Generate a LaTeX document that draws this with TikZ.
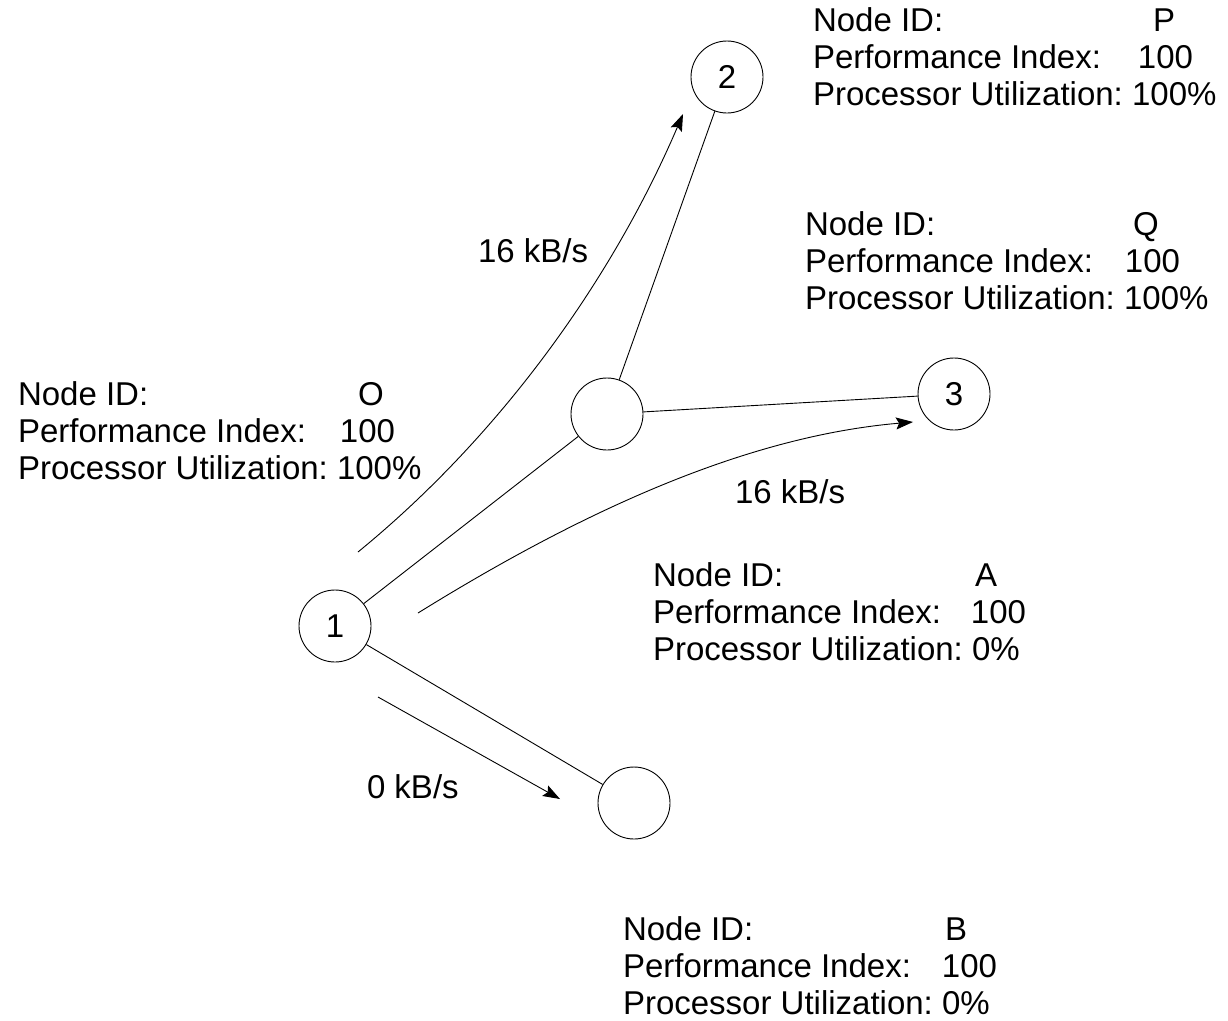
\documentclass[tikz,border=0pt]{standalone}
\usepackage{fontspec}
\setmainfont{Liberation Sans}
\usetikzlibrary{arrows.meta}
\frenchspacing
\tikzset{
  txt/.style={anchor=base west, inner sep=0pt, outer sep=0pt, font=\fontsize{33}{37}\selectfont},
  netnode/.style={circle, draw, line width=0.9pt, minimum size=72pt, inner sep=0pt, font=\fontsize{33}{37}\selectfont},
  link/.style={line width=0.9pt},
  flow/.style={line width=0.9pt, -{Stealth[length=17pt,width=12pt,inset=3pt]}}
}
\newcommand{\infoblock}[8]{% name, x, y, id, pi, pu, idoff, pioff
  \node[txt] (#1-a) at (#2,#3) {\makebox[#7pt][l]{Node ID:}#4};
  \node[txt] (#1-b) at (#2,#3+37) {\makebox[#8pt][l]{Performance Index:}#5};
  \node[txt] (#1-c) at (#2,#3+74) {Processor Utilization: #6};
}
\begin{document}
\begin{tikzpicture}[x=1pt,y=-1pt]
\useasboundingbox[fill=white] (0,0) rectangle (1228,1020);

% nodes
\node[netnode] (n2) at (727,77) {2};
\node[netnode] (nm) at (607,414) {};
\node[netnode] (n3) at (954,394) {3};
\node[netnode] (n1) at (335,626) {1};
\node[netnode] (nb) at (634,803) {};

% links
\draw[link] (nm) -- (n2);
\draw[link] (nm) -- (n3);
\draw[link] (n1) -- (nm);
\draw[link] (n1) -- (nb);

% flow arrows
\coordinate (f1s) at (358,552);
\coordinate (f1e) at (683,114);
\coordinate (f2s) at (418,613);
\coordinate (f2e) at (913,422);
\coordinate (f3s) at (378,697);
\coordinate (f3e) at (560,799);
\draw[flow] (f1s) .. controls (500,436) and (612,280) .. (f1e);
\draw[flow] (f2s) .. controls (568,520) and (737,437) .. (f2e);
\draw[flow] (f3s) -- (f3e);

% flow labels
\node[txt] (l1) at (478,262) {16 kB/s};
\node[txt] (l2) at (735,503) {16 kB/s};
\node[txt] (l3) at (367,798) {0 kB/s};

% info blocks
\infoblock{iP}{813}{31}{P}{100}{100\%}{340}{325}
\infoblock{iQ}{805}{235}{Q}{100}{100\%}{328}{320}
\infoblock{iO}{18}{405}{O}{100}{100\%}{340}{322}
\infoblock{iA}{653}{586}{A}{100}{0\%}{322}{318}
\infoblock{iB}{623}{940}{B}{100}{0\%}{322}{319}
\end{tikzpicture}
\end{document}
